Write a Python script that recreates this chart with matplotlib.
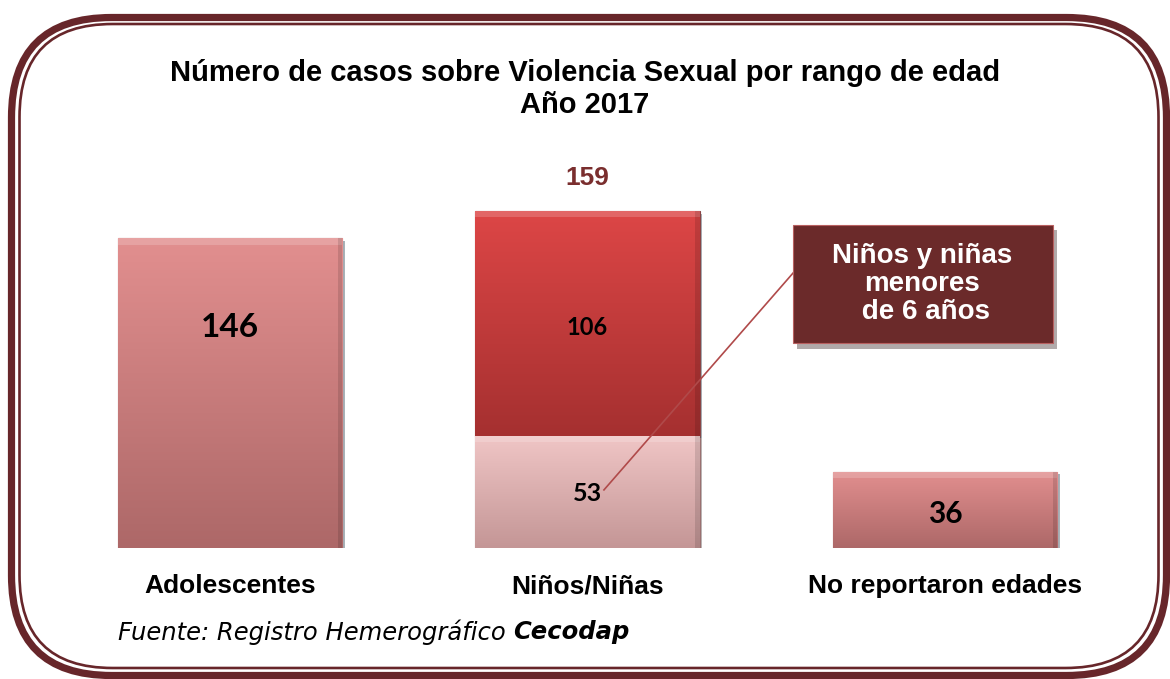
import numpy as np
import matplotlib
matplotlib.use('Agg')
from matplotlib import pyplot as plt
from matplotlib.patches import FancyBboxPatch, Rectangle
from matplotlib.transforms import IdentityTransform
from matplotlib.colors import LinearSegmentedColormap
import matplotlib.patheffects as pe

# datos
categorias = ['Adolescentes', 'Niños/Niñas', 'No reportaron edades']
menores_6 = [0, 53, 0]          # niños y niñas menores de 6 años
resto = [146, 106, 36]
total_ninos = menores_6[1] + resto[1]

titulo = 'Número de casos sobre Violencia Sexual por rango de edad\nAño 2017'
nota = 'Niños y niñas\nmenores\n de 6 años'

W, H = 1170, 679
fig = plt.figure(figsize=(W / 100, H / 100), dpi=100)
fig.patch.set_facecolor('white')

# borde redondeado doble (en pixeles)
marron = '#67262a'
outer = FancyBboxPatch((11.5, 3.5), 1155, 658, boxstyle='round,pad=0,rounding_size=100',
                       transform=IdentityTransform(), fill=False, ec=marron, lw=5.2)
inner = FancyBboxPatch((19.5, 11), 1139, 644, boxstyle='round,pad=0,rounding_size=93',
                       transform=IdentityTransform(), fill=False, ec=marron, lw=1.9)
fig.patches.extend([outer, inner])

ax = fig.add_axes([51.25 / W, 131 / H, 1072.5 / W, 371 / H])
ax.set_facecolor('none')
x = np.arange(len(categorias))
ancho = 0.627

grad_rosa = LinearSegmentedColormap.from_list('rosa', ['#ad6868', '#e28f8f'])
grad_rojo = LinearSegmentedColormap.from_list('rojo', ['#a53030', '#dd4646'])
grad_claro = LinearSegmentedColormap.from_list('claro', ['#c49696', '#f0c6c6'])

sombra = [pe.SimplePatchShadow(offset=(2, -2), alpha=0.35), pe.Normal()]
b1 = ax.bar(x[1], menores_6[1], width=ancho, color='#dcaeae', edgecolor='#9a7070',
            lw=0.8, path_effects=sombra)
b2 = ax.bar(x, resto, width=ancho, bottom=menores_6, edgecolor='#8a4444',
            lw=0.8, path_effects=sombra)

grad = np.linspace(0, 1, 256).reshape(-1, 1)
parches = [(b1[0], grad_claro), (b2[0], grad_rosa), (b2[1], grad_rojo), (b2[2], grad_rosa)]
for p, cm in parches:
    x0, y0, w, h = p.get_x(), p.get_y(), p.get_width(), p.get_height()
    im = ax.imshow(grad, cmap=cm, origin='lower', aspect='auto',
                   extent=[x0, x0 + w, y0, y0 + h], zorder=p.get_zorder() + 0.1)
    im.set_clip_path(p)
    # brillo superior y sombra lateral (bisel)
    ax.add_patch(Rectangle((x0, y0 + h - 3), w, 3, color='white', alpha=0.18,
                           lw=0, zorder=p.get_zorder() + 0.2))
    ax.add_patch(Rectangle((x0 + w - 0.012, y0), 0.012, h, color='black', alpha=0.12,
                           lw=0, zorder=p.get_zorder() + 0.2))

ax.set_xlim(-0.5, 2.5)
ax.set_ylim(0, 175)

# etiquetas de valores
lato = ['Lato', 'DejaVu Sans']
ax.text(x[0], 104, str(resto[0]), ha='center', va='center', fontsize=24,
        fontweight='bold', family=lato, zorder=5)
ax.text(x[1], 104, str(resto[1]), ha='center', va='center', fontsize=17,
        fontweight='bold', family=lato, zorder=5)
ax.text(x[1], 25.5, str(menores_6[1]), ha='center', va='center', fontsize=18,
        fontweight='bold', family=lato, zorder=5)
ax.text(x[2], 16, str(resto[2]), ha='center', va='center', fontsize=21.5,
        fontweight='bold', family=lato, zorder=5)
ax.text(x[1], 174.5, str(total_ninos), ha='center', va='center', fontsize=19,
        fontweight='bold', family='Liberation Sans', color='#7a2e2e', clip_on=False)

# nota con linea
ax.plot([1.046, 1.636], [27.4, 141.5], color='#b04a4a', lw=1.2, zorder=6)
caja = Rectangle((1.575, 96.7), 0.727, 55.7, facecolor='#6b2a2a', edgecolor='#b86060',
                 lw=0.8, zorder=7, path_effects=[pe.SimplePatchShadow(offset=(3, -4), alpha=0.35), pe.Normal()])
ax.add_patch(caja)
ax.text(1.936, 124.5, nota, ha='center', va='center', fontsize=20, fontweight='bold',
        family='Liberation Sans', color='white', linespacing=1.1, zorder=8)

ax.set_xticks(x)
ax.set_xticklabels(categorias, fontsize=19, fontweight='bold', family='Liberation Sans')
ax.tick_params(axis='x', length=0, pad=19)
ax.set_yticks([])
for s in ax.spines.values():
    s.set_visible(False)

fig.text(585 / W, 1 - 89 / H, titulo, ha='center', va='center', fontsize=21,
         fontweight='bold', family='Liberation Sans', linespacing=1.15)
t1 = fig.text(118 / W, 1 - 632 / H, 'Fuente: Registro Hemerográfico ', ha='left', va='center',
              fontsize=17.5, style='italic', family='DejaVu Sans')
fig.canvas.draw()
bb = t1.get_window_extent()
fig.text(bb.x1 / W, 1 - 632 / H, 'Cecodap', ha='left', va='center', fontsize=17.5,
         style='italic', fontweight='bold', family='DejaVu Sans')

fig.savefig('out.png', dpi=100)
